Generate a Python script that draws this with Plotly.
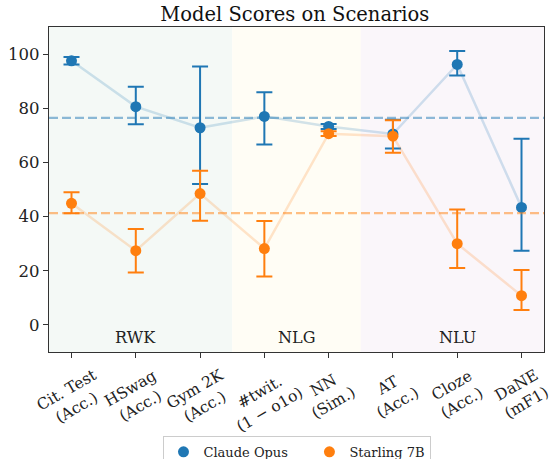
import plotly.graph_objects as go

categories = ["Cit. Test<br>(Acc.)", "HSwag<br>(Acc.)", "Gym 2K<br>(Acc.)", "#twit.<br>(1 − o1o)",
              "NN<br>(Sim.)", "AT<br>(Acc.)", "Cloze<br>(Acc.)", "DaNE<br>(mF1)"]
claude = [97.5, 80.6, 72.8, 77.0, 73.3, 70.5, 96.2, 43.4]
claude_hi = [98.9, 87.9, 95.4, 85.9, 74.2, 75.8, 101.1, 68.7]
claude_lo = [96.2, 74.1, 52.0, 66.6, 72.3, 65.1, 92.1, 27.4]
starling = [44.9, 27.4, 48.5, 28.2, 70.6, 69.7, 30.0, 10.8]
starling_hi = [49.0, 35.4, 56.9, 38.4, 71.5, 75.6, 42.6, 20.3]
starling_lo = [41.2, 19.4, 38.5, 17.9, 69.8, 63.6, 21.0, 5.5]
series_names = ["Claude Opus", "Starling 7B"]
groups = ["RWK", "NLG", "NLU"]
group_bounds = [(-0.35, 2.5), (2.5, 4.5), (4.5, 7.35)]
group_centers = [1, 3.5, 6]
group_colors = ["rgb(244,249,246)", "rgb(255,253,245)", "rgb(250,246,250)"]

BLUE = "#1f77b4"
ORANGE = "#ff7f0e"
FONT = "DejaVu Serif"
xs = list(range(len(categories)))

fig = go.Figure()

for (x0, x1), col in zip(group_bounds, group_colors):
    fig.add_shape(type="rect", xref="x", yref="paper", x0=x0, x1=x1, y0=0, y1=1,
                  fillcolor=col, line_width=0, layer="below")

def add_series(name, vals, hi, lo, color, rgba):
    mean = sum(vals) / len(vals)
    fig.add_shape(type="line", xref="paper", yref="y", x0=0, x1=1, y0=mean, y1=mean,
                  line=dict(color=rgba(0.5), width=2.2, dash="9px,4px"))
    fig.add_trace(go.Scatter(x=xs, y=vals, mode="lines", line=dict(color=rgba(0.2), width=2.5),
                             showlegend=False, hoverinfo="skip"))
    fig.add_trace(go.Scatter(
        x=xs, y=vals, mode="markers", name=name,
        marker=dict(color=color, size=11),
        error_y=dict(type="data", symmetric=False,
                     array=[h - v for h, v in zip(hi, vals)],
                     arrayminus=[v - l for l, v in zip(lo, vals)],
                     color=color, thickness=2, width=8)))

add_series(series_names[0] + "\u00a0" * 4, claude, claude_hi, claude_lo, BLUE,
           lambda a: f"rgba(31,119,180,{a})")
add_series(series_names[1], starling, starling_hi, starling_lo, ORANGE,
           lambda a: f"rgba(255,127,14,{a})")

for g, c in zip(groups, group_centers):
    fig.add_annotation(x=c, y=-4.6, xref="x", yref="y", text=g, showarrow=False,
                       font=dict(family=FONT, size=16, color="#222"))

for i, lab in enumerate(categories):
    fig.add_annotation(x=i, y=-0.035, xref="x", yref="paper", text=lab, showarrow=False,
                       textangle=-30, xanchor="center", yanchor="top",
                       font=dict(family=FONT, size=15.5, color="#222"))

fig.update_layout(
    width=549, height=459,
    margin=dict(l=49, r=5, t=27, b=107, autoexpand=False),
    paper_bgcolor="white", plot_bgcolor="white",
    title=dict(text="Model Scores on Scenarios", x=0.537, xanchor="center", y=0.985, yanchor="top",
               font=dict(family=FONT, size=19.5, color="#111")),
    font=dict(family=FONT, size=16, color="#222"),
    showlegend=True,
    legend=dict(orientation="h", x=0.5, xanchor="center", y=-0.258, yanchor="top",
                bordercolor="#cccccc", borderwidth=1, font=dict(family=FONT, size=13)),
    xaxis=dict(range=[-0.35, 7.35], tickvals=xs, showticklabels=False, ticks="outside",
               ticklen=5, tickcolor="#333", showgrid=False, zeroline=False, automargin=False,
               showline=True, linecolor="#333", linewidth=1.2, mirror=True),
    yaxis=dict(range=[-10, 110], tickvals=[0, 20, 40, 60, 80, 100], ticks="outside",
               ticklen=5, tickcolor="#333", showgrid=False, zeroline=False, automargin=False,
               tickfont=dict(family=FONT, size=16.5),
               showline=True, linecolor="#333", linewidth=1.2, mirror=True),
)

fig.write_html("out.html", config={"displayModeBar": False},
               post_script="document.body.style.margin='0px';")
